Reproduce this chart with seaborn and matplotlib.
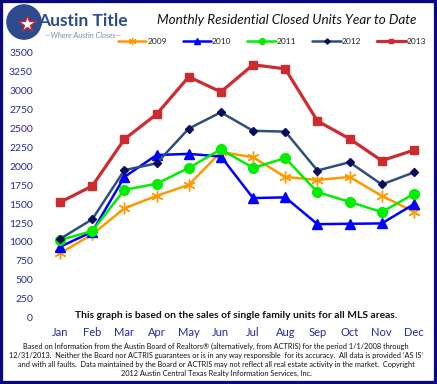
import matplotlib
matplotlib.use('Agg')
import matplotlib.pyplot as plt
import seaborn as sns
import pandas as pd
from matplotlib.patches import Circle, Rectangle
from matplotlib.lines import Line2D

sns.set_style('white')
plt.rcParams['font.family'] = ['Lato', 'DejaVu Sans']

# -------------------------
# Data (closed units per month)
# -------------------------
months = ['Jan', 'Feb', 'Mar', 'Apr', 'May', 'Jun', 'Jul', 'Aug', 'Sep', 'Oct', 'Nov', 'Dec']
units_2009 = [850, 1100, 1445, 1610, 1755, 2190, 2120, 1860, 1820, 1860, 1610, 1400]
units_2010 = [935, 1135, 1860, 2150, 2165, 2130, 1580, 1590, 1235, 1240, 1245, 1500]
units_2011 = [1025, 1145, 1690, 1770, 1980, 2225, 1980, 2110, 1660, 1530, 1395, 1635]
units_2012 = [1040, 1300, 1950, 2040, 2500, 2715, 2470, 2460, 1945, 2055, 1760, 1920]
units_2013 = [1525, 1740, 2360, 2690, 3185, 2985, 3345, 3290, 2600, 2365, 2075, 2215]

years = ['2009', '2010', '2011', '2012', '2013']
series = [units_2009, units_2010, units_2011, units_2012, units_2013]

df = pd.DataFrame({'Month': months * len(years),
                   'Units': sum(series, []),
                   'Year': [y for y in years for _ in months]})
df['pos'] = df['Month'].map({m: i for i, m in enumerate(months)})

# -------------------------
# Styles
# -------------------------
line_colors = {'2009': '#FF9900', '2010': '#0000FF', '2011': '#00EE00', '2012': '#2E4F7E', '2013': '#CC2B30'}
marker_colors = {'2009': '#FF9900', '2010': '#0000FF', '2011': '#00EE00', '2012': '#0A0A60', '2013': '#CC2B30'}
markers = {'2009': (6, 2, 0), '2010': '^', '2011': 'o', '2012': 'D', '2013': 's'}
msizes = {'2009': 8.5, '2010': 6.5, '2011': 7, '2012': 4.5, '2013': 5.2}
lwidths = {'2009': 1.8, '2010': 1.8, '2011': 1.8, '2012': 1.8, '2013': 2.3}

fig = plt.figure(figsize=(4.37, 3.84), dpi=100)
ax = fig.add_axes([44 / 437, 66.5 / 384, 386 / 437, 264.5 / 384])

handles = []
for yr in years:
    sub = df[df['Year'] == yr]
    sns.lineplot(data=sub, x='pos', y='Units', ax=ax, color=line_colors[yr],
                 linewidth=lwidths[yr], marker=markers[yr], markersize=msizes[yr],
                 markerfacecolor=marker_colors[yr], markeredgecolor=marker_colors[yr],
                 markeredgewidth=1.0, legend=False)
    handles.append(Line2D([], [], color=line_colors[yr], linewidth=lwidths[yr],
                          marker=markers[yr], markersize=msizes[yr] * 0.6,
                          markerfacecolor=marker_colors[yr], markeredgecolor=marker_colors[yr],
                          label=yr))

ax.set_xlim(-0.5, 11.5)
ax.set_ylim(0, 3500)
ax.set_yticks(range(0, 3501, 250))
ax.set_xticks(range(12))
ax.set_xticklabels(months)
ax.set_xlabel('')
ax.set_ylabel('')
for s in ax.spines.values():
    s.set_visible(False)
ax.grid(False)
tick_color = '#2A2A96'
ax.tick_params(axis='y', length=0, pad=8, labelsize=7.5, labelcolor=tick_color)
ax.tick_params(axis='x', length=0, pad=7, labelsize=8, labelcolor=tick_color)

# Legend
fig.legend(handles=handles, loc='center', bbox_to_anchor=(272 / 437, 1 - 41 / 384), ncol=5,
           frameon=False, fontsize=6, handlelength=3.4, handletextpad=0.15,
           columnspacing=1.9, labelcolor='#222222')

# Title and logo
fig.text(287 / 437, 1 - 20 / 384, 'Monthly Residential Closed Units Year to Date',
         ha='center', va='center', fontsize=9.7, style='italic', color='#111111')
fig.text(38 / 437, 1 - 21 / 384, 'Austin Title', ha='left', va='center',
         fontsize=12.5, fontweight='bold', color='#2D4B8E')
fig.text(83 / 437, 1 - 36 / 384, '\u2014Where Austin Closes\u2014', ha='center', va='center',
         fontsize=5.5, style='italic', color='#7A8AAE')
logo = fig.add_axes([6 / 437, 1 - 40 / 384, 36 / 437, 36 / 384])
logo.set_xlim(-1, 1)
logo.set_ylim(-1, 1)
logo.set_aspect('equal')
logo.axis('off')
logo.add_patch(Circle((0, 0), 0.95, color='#2D4B8E'))
logo.plot([0.15], [-0.1], marker='*', markersize=13, color='white', markeredgecolor='#C0282E')

# Notes
fig.text(236 / 437, 1 - 316 / 384,
         'This graph is based on the sales of single family units for all MLS areas.',
         ha='center', va='center', fontsize=7.4, fontweight='bold', color='#111111')
footer = ("Based on Information from the Austin Board of Realtors\u00ae (alternatively, from ACTRIS) for the period 1/1/2008 through\n"
          "12/31/2013.  Neither the Board nor ACTRIS guarantees or is in any way responsible  for its accuracy.  All data is provided \u2018AS IS\u2019\n"
          "and with all faults.  Data maintained by the Board or ACTRIS may not reflect all real estate activity in the market.  Copyright\n"
          "2012 Austin Central Texas Realty Information Services, Inc.")
fig.text(216 / 437, 1 - 360 / 384, footer, ha='center', va='center', fontsize=5.3,
         color='#111111', linespacing=1.3)

# Border
fig.patches.append(Rectangle((0, 0), 1, 1, transform=fig.transFigure, fill=False,
                             edgecolor='#0A0A80', linewidth=4.5, zorder=10))

fig.savefig('out.png', dpi=100)
